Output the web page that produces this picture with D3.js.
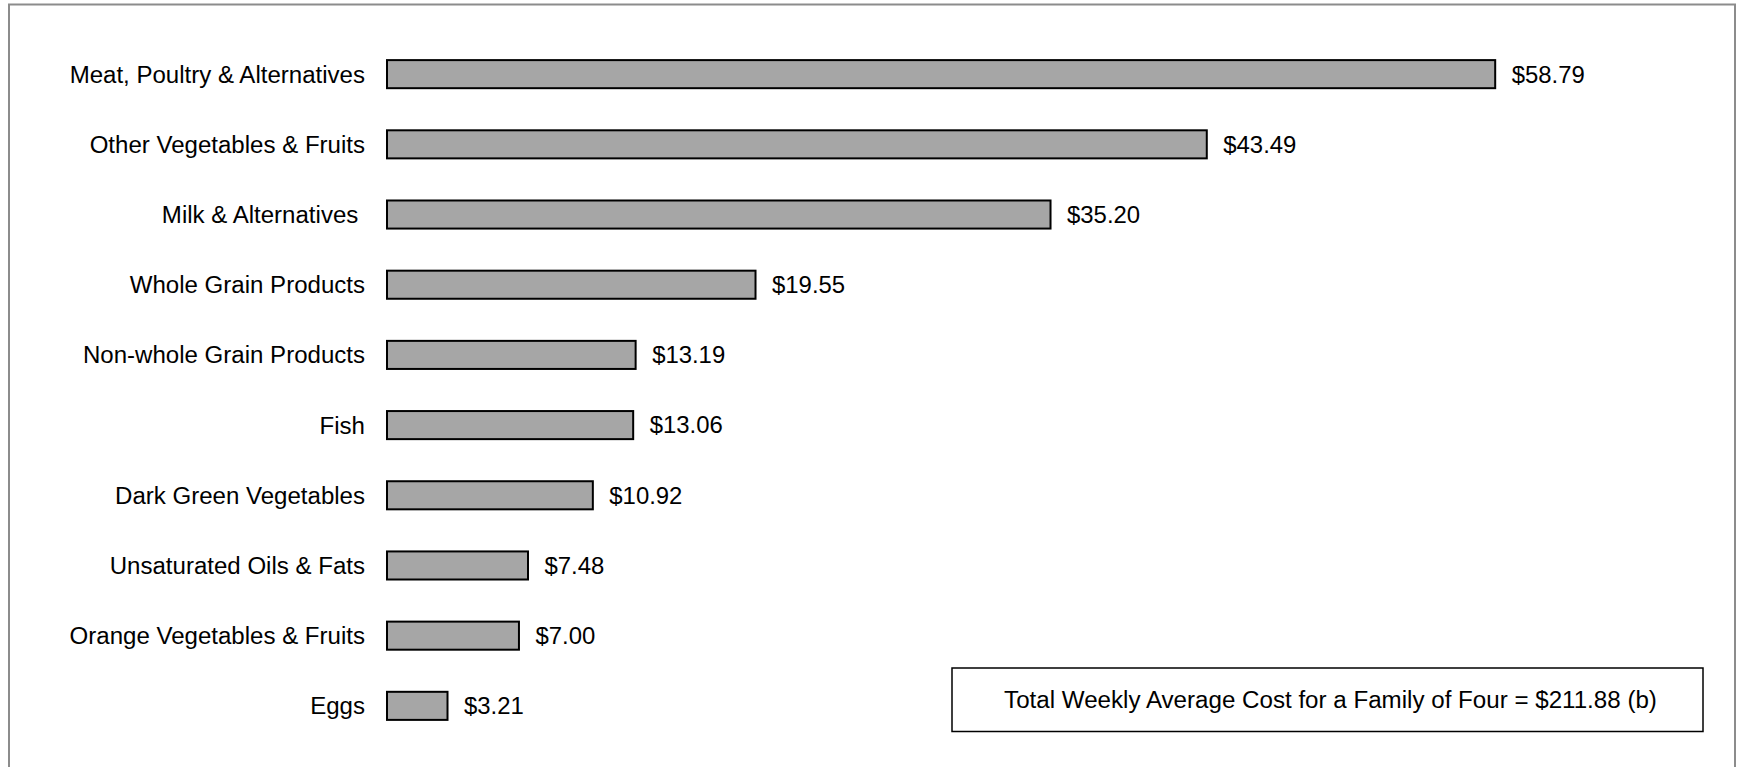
<!DOCTYPE html>
<html>
<head>
<meta charset="utf-8">
<script src="https://cdn.jsdelivr.net/npm/d3@7"></script>
<style>
  html, body { margin: 0; padding: 0; background: #fff; }
  svg { display: block; font-family: "Liberation Sans", Arial, sans-serif; }
  text { white-space: pre; }
</style>
</head>
<body>
<svg id="chart" width="1737" height="767"></svg>
<script>
// ---- data ----
var categories = [
  "Meat, Poultry & Alternatives",
  "Other Vegetables & Fruits",
  "Milk & Alternatives ",
  "Whole Grain Products",
  "Non-whole Grain Products",
  "Fish",
  "Dark Green Vegetables",
  "Unsaturated Oils & Fats",
  "Orange Vegetables & Fruits",
  "Eggs"
];
var costs = [58.79, 43.49, 35.20, 19.55, 13.19, 13.06, 10.92, 7.48, 7.00, 3.21];
var totalNote = "Total Weekly Average Cost for a Family of Four = $211.88 (b)";

var svg = d3.select('#chart');

// outer frame (bottom edge falls outside the picture)
svg.append('rect')
  .attr('x', 9).attr('y', 4.5)
  .attr('width', 1726).attr('height', 820)
  .attr('fill', 'none')
  .attr('stroke', '#8c8c8c')
  .attr('stroke-width', 2);

var x = d3.scaleLinear().domain([0, 70]).range([387, 387 + 18.85 * 70]);
var y = d3.scaleBand().domain(categories).range([18, 762]).padding(0.6);

var rows = svg.selectAll('g.row')
  .data(categories.map(function(c, i) { return {name: c, value: costs[i]}; }))
  .enter().append('g')
  .attr('class', 'row');

rows.append('rect')
  .attr('x', x(0))
  .attr('y', function(d) { return y(d.name); })
  .attr('width', function(d) { return x(d.value) - x(0); })
  .attr('height', y.bandwidth())
  .attr('fill', '#a6a6a6')
  .attr('stroke', '#000')
  .attr('stroke-width', 2);

// category labels
rows.append('text')
  .attr('x', 365)
  .attr('y', function(d) { return y(d.name) + y.bandwidth() / 2; })
  .attr('dy', '0.35em')
  .attr('text-anchor', 'end')
  .attr('font-size', 24.05)
  .attr('fill', '#000')
  .text(function(d) { return d.name; });

// value labels
rows.append('text')
  .attr('x', function(d) { return x(d.value) + 16.5; })
  .attr('y', function(d) { return y(d.name) + y.bandwidth() / 2; })
  .attr('dy', '0.35em')
  .attr('font-size', 23.9)
  .attr('fill', '#000')
  .text(function(d) { return '$' + d3.format('.2f')(d.value); });

// total box
svg.append('rect')
  .attr('x', 952).attr('y', 668)
  .attr('width', 751).attr('height', 63.5)
  .attr('fill', '#fff')
  .attr('stroke', '#000')
  .attr('stroke-width', 1.5);

svg.append('text')
  .attr('x', 1330.5).attr('y', 699.8)
  .attr('dy', '0.35em')
  .attr('text-anchor', 'middle')
  .attr('font-size', 24.15)
  .attr('fill', '#000')
  .text(totalNote);
</script>
</body>
</html>
